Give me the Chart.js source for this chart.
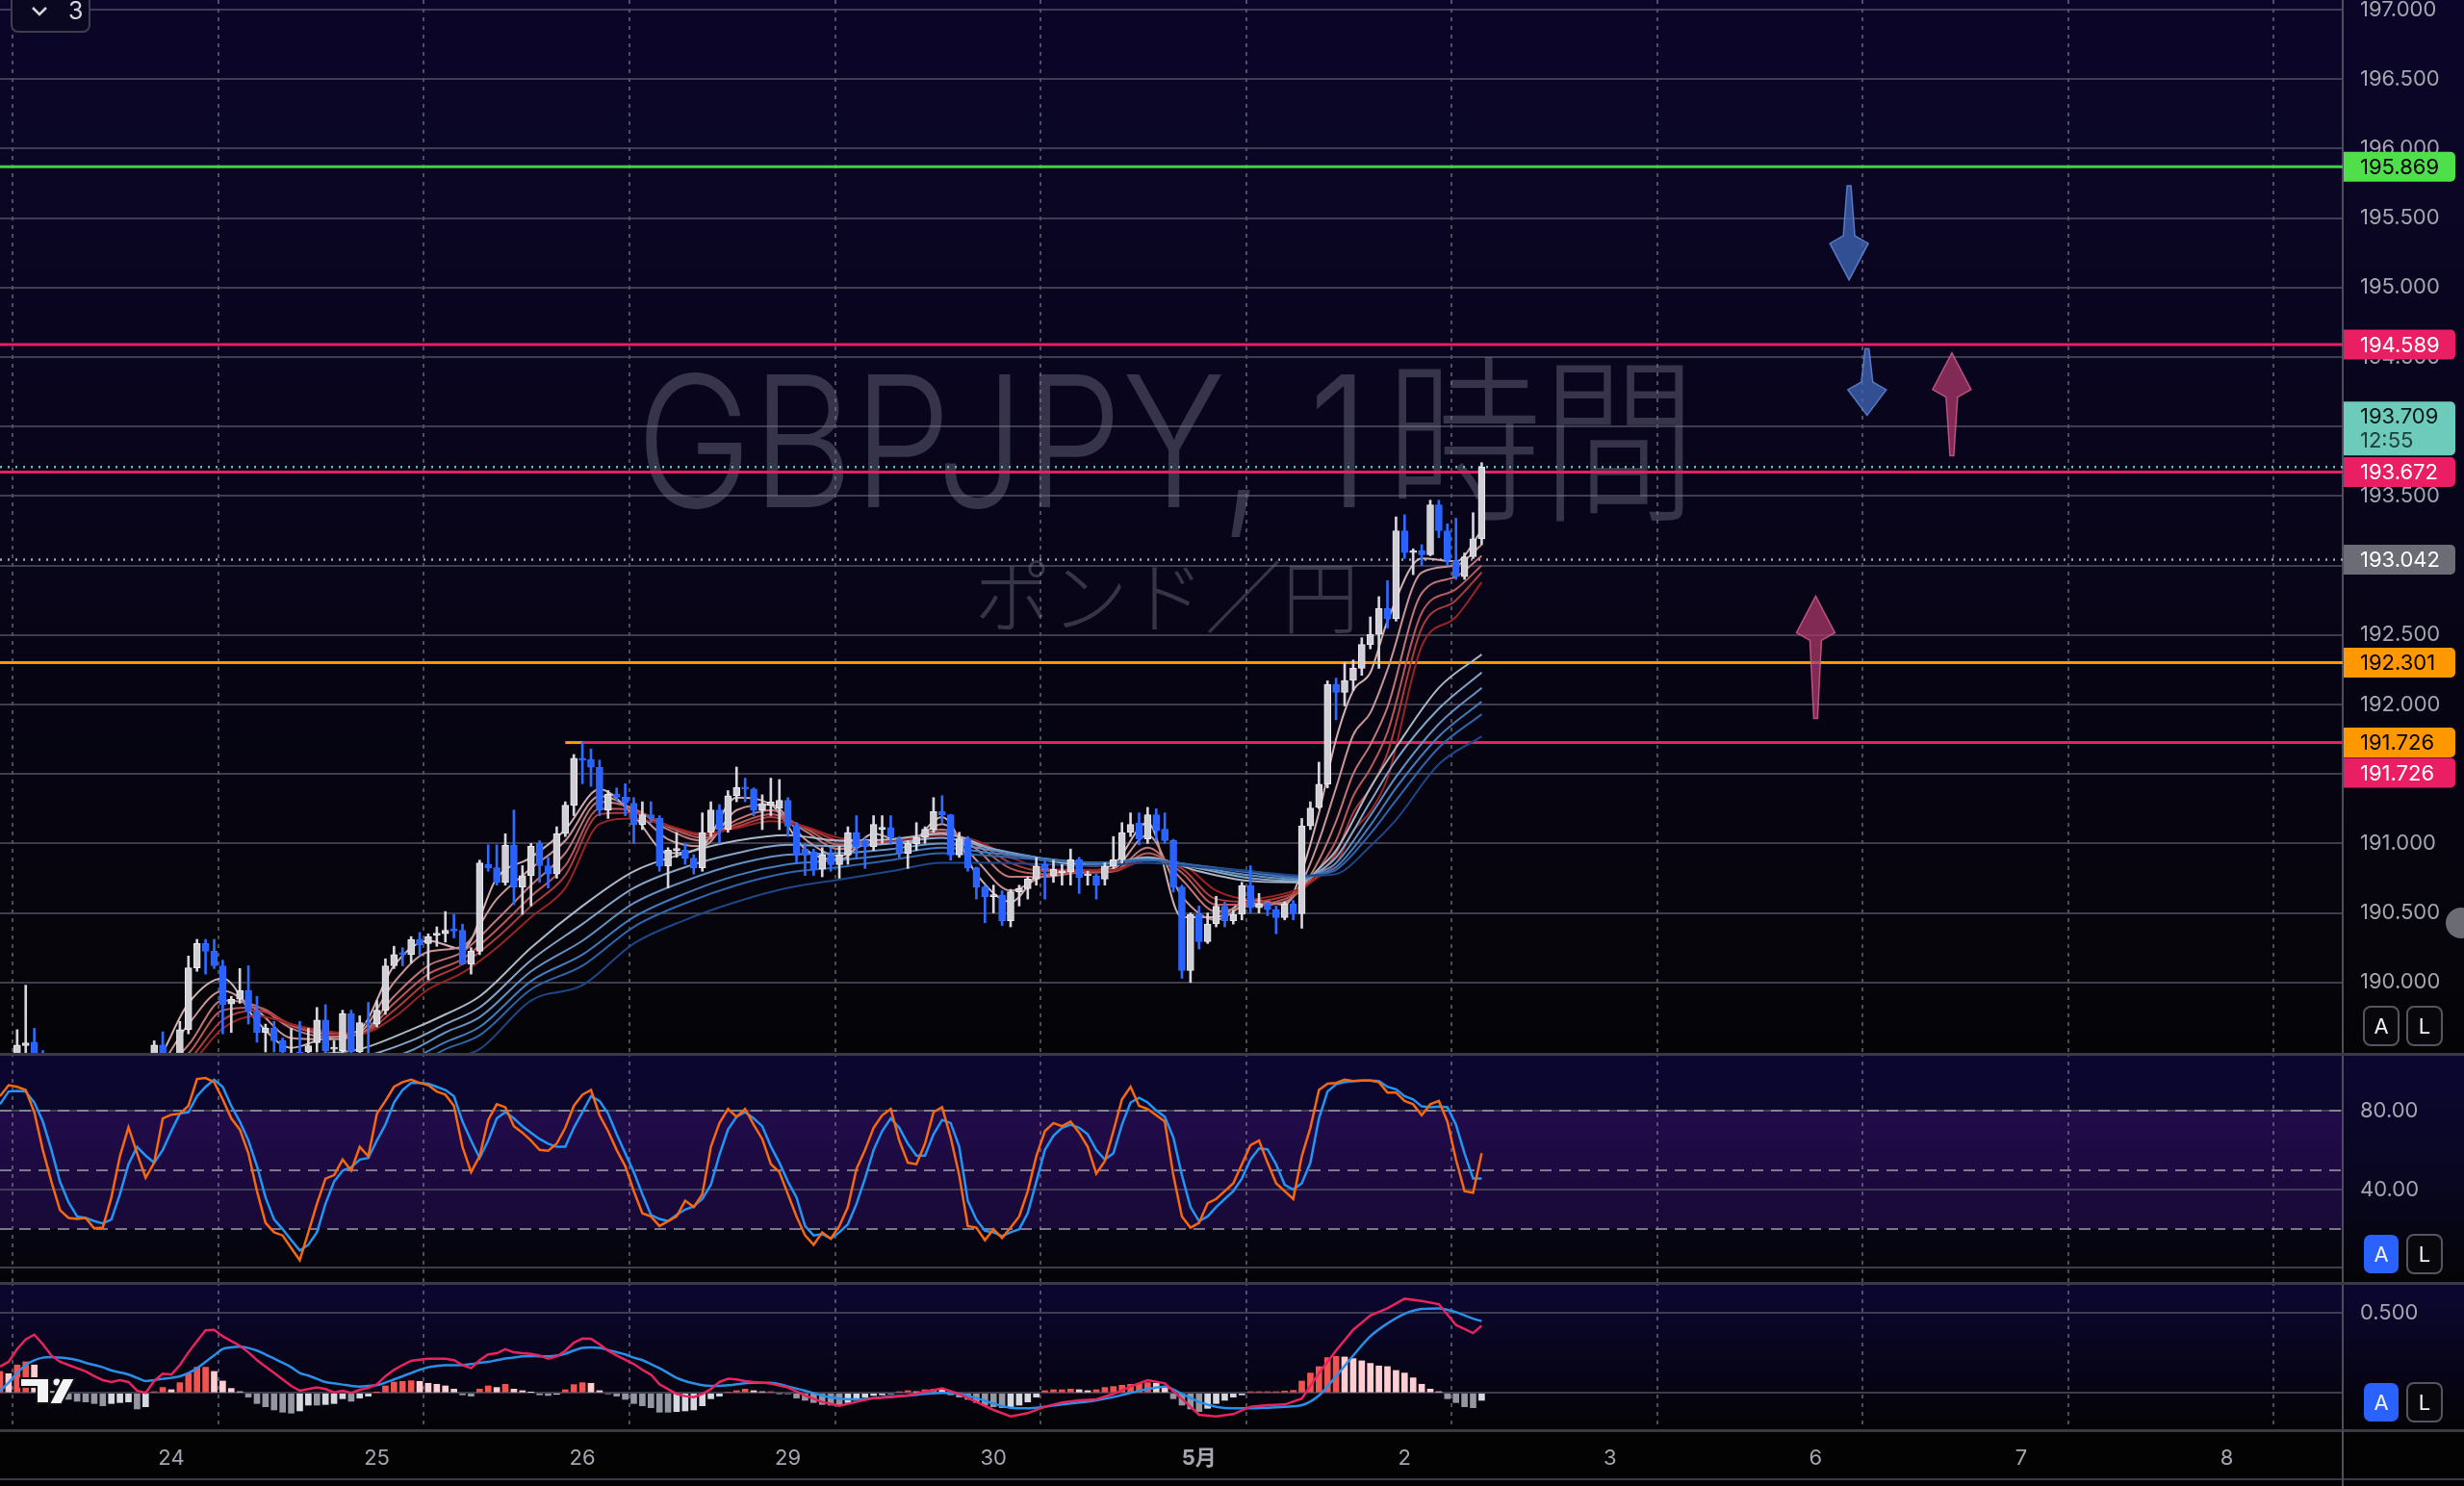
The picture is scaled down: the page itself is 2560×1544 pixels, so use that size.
<!DOCTYPE html>
<html>
<head>
<meta charset="utf-8">
<script src="https://cdn.jsdelivr.net/npm/chart.js@4.4.1/dist/chart.umd.min.js"></script>
<style>
  html, body { margin: 0; padding: 0; background: #030304; }
  #wrap { position: relative; width: 2560px; height: 1544px; overflow: hidden; background: #030304; }
  #wrap canvas { position: absolute; left: 0; }
</style>
</head>
<body>
<div id="wrap">
  <canvas id="chart-precio" width="2560" height="1094" style="top:0;width:2560px;height:1094px"></canvas>
  <canvas id="chart-estoc" width="2560" height="238" style="top:1094px;width:2560px;height:238px"></canvas>
  <canvas id="chart-macd" width="2560" height="212" style="top:1332px;width:2560px;height:212px"></canvas>
</div>
<script>
// ============================================================================
// GBPJPY 1時間足 — ローソク足 + GMMA + ストキャスティクス + MACD
// ============================================================================

// --- eje temporal (índice de barra, 0 = 24日 00:00) ---
const primeraBarra = -20;
const diasPos = [0, 24, 48, 72, 96, 120, 144, 168, 192, 216, 240];
const diasEtiquetas = ["24", "25", "26", "29", "30", "5月", "2", "3", "6", "7", "8"];
const rejillaX = [-18.5, 5.5, 29.5, 53.5, 77.5, 101.5, 125.5, 149.5, 173.5, 197.5, 221.5, 245.5];

// --- precios (barra -20 .. 153) ---
const aperturas = [
  189.40, 189.45, 189.42, 189.545, 189.57, 189.45, 189.38, 189.30, 189.22, 189.20,
  189.18, 189.20, 189.10, 189.15, 189.30, 189.38, 189.42, 189.33, 189.48, 189.55,
  189.47, 189.42, 189.66, 190.105, 190.28, 190.225, 190.12, 189.845, 189.88, 189.94,
  189.79, 189.64, 189.67, 189.58, 189.47, 189.50, 189.50, 189.567, 189.73, 189.52,
  189.51, 189.775, 189.50, 189.71, 189.70, 189.80, 190.12, 190.21, 190.20, 190.31,
  190.28, 190.34, 190.35, 190.38, 190.375, 190.133, 190.225, 190.85, 190.825, 190.72,
  190.987, 190.687, 190.768, 191.00, 190.84, 190.78, 191.07, 191.275, 191.614, 191.603,
  191.548, 191.24, 191.356, 191.333, 191.29, 191.137, 191.206, 191.183, 190.837, 190.95,
  190.952, 190.894, 190.825, 191.079, 191.241, 191.102, 191.344, 191.402, 191.391, 191.241,
  191.275, 191.252, 191.31, 191.125, 190.96, 190.94, 190.814, 190.917, 190.848, 190.917,
  191.079, 191.021, 190.975, 191.102, 191.114, 191.033, 190.929, 190.998, 191.044, 191.102,
  191.229, 191.206, 190.917, 191.033, 190.825, 190.687, 190.617, 190.629, 190.444, 190.652,
  190.675, 190.744, 190.848, 190.767, 190.79, 190.795, 190.883, 190.767, 190.767, 190.744,
  190.837, 190.883, 191.079, 191.148, 191.033, 191.206, 191.102, 191.021, 190.687, 190.086,
  190.49, 190.294, 190.421, 190.548, 190.444, 190.49, 190.698, 190.537, 190.566, 190.523,
  190.466, 190.566, 190.494, 191.126, 191.26, 191.427, 192.145, 192.087, 192.173, 192.26,
  192.432, 192.504, 192.69, 192.618, 193.25, 193.092, 193.106, 193.078, 193.436, 193.25,
  193.035, 192.92, 193.063, 193.192
];
const maximos = [
  189.48, 189.48, 189.66, 189.98, 189.67, 189.51, 189.45, 189.40, 189.32, 189.30,
  189.28, 189.25, 189.22, 189.35, 189.42, 189.46, 189.45, 189.40, 189.58, 189.645,
  189.48, 189.72, 190.19, 190.31, 190.31, 190.31, 190.16, 189.90, 190.10, 190.12,
  189.90, 189.70, 189.72, 189.60, 189.67, 189.72, 189.67, 189.82, 189.84, 189.58,
  189.80, 189.80, 189.76, 189.856, 189.87, 190.17, 190.26, 190.25, 190.33, 190.36,
  190.35, 190.40, 190.51, 190.49, 190.42, 190.25, 190.88, 190.99, 190.99, 191.07,
  191.24, 190.84, 191.00, 191.02, 190.90, 191.12, 191.30, 191.64, 191.726, 191.68,
  191.60, 191.38, 191.40, 191.43, 191.33, 191.30, 191.30, 191.20, 190.97, 191.08,
  191.00, 190.92, 191.22, 191.30, 191.28, 191.38, 191.55, 191.47, 191.40, 191.35,
  191.47, 191.46, 191.33, 191.15, 191.00, 190.96, 190.97, 190.97, 190.98, 191.12,
  191.20, 191.04, 191.20, 191.20, 191.20, 191.05, 191.02, 191.15, 191.12, 191.33,
  191.344, 191.21, 191.08, 191.05, 190.83, 190.70, 190.70, 190.66, 190.67, 190.70,
  190.76, 190.90, 190.87, 190.88, 190.85, 190.96, 190.90, 190.80, 190.78, 190.86,
  191.05, 191.15, 191.22, 191.22, 191.26, 191.25, 191.22, 191.03, 190.70, 190.50,
  190.55, 190.50, 190.62, 190.58, 190.52, 190.72, 190.84, 190.64, 190.58, 190.55,
  190.58, 190.59, 191.18, 191.30, 191.585, 192.17, 192.19, 192.30, 192.32, 192.48,
  192.63, 192.776, 192.891, 193.35, 193.365, 193.12, 193.15, 193.47, 193.47, 193.30,
  193.34, 193.09, 193.38, 193.74
];
const minimos = [
  189.30, 189.35, 189.40, 189.45, 189.40, 189.30, 189.25, 189.18, 189.12, 189.10,
  189.10, 189.05, 189.02, 189.12, 189.25, 189.30, 189.28, 189.22, 189.42, 189.40,
  189.35, 189.40, 189.63, 190.08, 190.06, 190.10, 189.63, 189.64, 189.85, 189.70,
  189.57, 189.50, 189.50, 189.45, 189.40, 189.40, 189.45, 189.50, 189.48, 189.49,
  189.48, 189.48, 189.48, 189.49, 189.68, 189.77, 190.10, 190.12, 190.14, 190.20,
  190.02, 190.26, 190.29, 190.32, 190.13, 190.06, 190.20, 190.80, 190.70, 190.70,
  190.56, 190.49, 190.55, 190.72, 190.68, 190.75, 191.05, 191.20, 191.43, 191.41,
  191.20, 191.18, 191.31, 191.20, 191.00, 191.10, 191.15, 190.80, 190.68, 190.90,
  190.85, 190.78, 190.80, 191.05, 191.00, 191.08, 191.30, 191.30, 191.20, 191.10,
  191.20, 191.10, 191.05, 190.86, 190.77, 190.77, 190.76, 190.80, 190.75, 190.85,
  190.90, 190.82, 190.95, 191.00, 191.00, 190.90, 190.82, 190.95, 191.00, 191.08,
  191.15, 190.88, 190.90, 190.80, 190.60, 190.43, 190.50, 190.41, 190.40, 190.55,
  190.60, 190.70, 190.60, 190.72, 190.70, 190.70, 190.64, 190.70, 190.60, 190.70,
  190.82, 190.86, 191.05, 190.99, 191.00, 191.02, 191.00, 190.65, 190.03, 190.00,
  190.24, 190.28, 190.40, 190.40, 190.42, 190.45, 190.50, 190.50, 190.48, 190.35,
  190.45, 190.45, 190.39, 191.10, 191.25, 191.40, 191.89, 191.99, 192.10, 192.21,
  192.40, 192.26, 192.55, 192.60, 193.05, 192.934, 193.00, 193.07, 193.20, 193.00,
  192.90, 192.90, 193.05, 193.15
];
const cierres = [
  189.45, 189.42, 189.55, 189.565, 189.47, 189.38, 189.30, 189.22, 189.20, 189.18,
  189.20, 189.10, 189.15, 189.30, 189.38, 189.42, 189.33, 189.30, 189.55, 189.49,
  189.42, 189.66, 190.105, 190.28, 190.225, 190.12, 189.84, 189.88, 189.94, 189.79,
  189.64, 189.67, 189.58, 189.50, 189.49, 189.46, 189.545, 189.729, 189.51, 189.52,
  189.775, 189.50, 189.71, 189.70, 189.80, 190.12, 190.20, 190.20, 190.31, 190.27,
  190.33, 190.35, 190.375, 190.37, 190.133, 190.225, 190.86, 190.825, 190.72, 190.987,
  190.687, 190.768, 190.98, 190.84, 190.78, 191.07, 191.275, 191.614, 191.598, 191.548,
  191.24, 191.356, 191.333, 191.29, 191.137, 191.206, 191.183, 190.837, 190.952, 190.96,
  190.894, 190.825, 191.079, 191.241, 191.102, 191.344, 191.402, 191.391, 191.241, 191.287,
  191.298, 191.31, 191.125, 190.917, 190.917, 190.814, 190.917, 190.848, 190.917, 191.079,
  190.975, 190.975, 191.137, 191.114, 191.044, 190.929, 190.998, 191.044, 191.102, 191.229,
  191.206, 190.917, 191.033, 190.825, 190.687, 190.617, 190.63, 190.444, 190.652, 190.675,
  190.744, 190.837, 190.814, 190.814, 190.80, 190.883, 190.756, 190.767, 190.698, 190.837,
  190.883, 191.079, 191.137, 191.033, 191.206, 191.091, 191.021, 190.687, 190.086, 190.49,
  190.294, 190.421, 190.548, 190.444, 190.49, 190.698, 190.537, 190.566, 190.523, 190.466,
  190.566, 190.494, 191.126, 191.255, 191.427, 192.145, 192.087, 192.173, 192.26, 192.432,
  192.504, 192.69, 192.618, 193.25, 193.092, 193.10, 193.078, 193.436, 193.25, 193.035,
  192.92, 193.063, 193.192, 193.709
];

// --- GMMA corto (rojos) ---
const rojoIdx = [-20, -14, -8, -2, 2, 6, 10, 14, 18, 22, 26, 30, 34, 38, 42, 46, 50, 54, 58, 62, 66, 70, 74, 78, 82, 86, 90, 94, 98, 102, 106, 110, 114, 118, 122, 126, 130, 132, 134, 136, 138, 140, 142, 146, 150, 153];
const rojo1 = [189.45, 189.42, 189.25, 189.40, 189.85, 190.03, 189.72, 189.53, 189.60, 189.66, 190.12, 190.30, 190.24, 190.75, 190.90, 191.10, 191.39, 191.20, 190.93, 190.98, 191.33, 191.28, 190.96, 190.88, 191.07, 191.00, 191.19, 190.78, 190.58, 190.81, 190.80, 190.85, 191.15, 190.47, 190.47, 190.60, 190.56, 190.80, 191.22, 191.75, 192.10, 192.23, 192.60, 193.05, 193.03, 193.25];
const rojo2 = [189.42, 189.43, 189.28, 189.36, 189.70, 189.94, 189.80, 189.60, 189.59, 189.64, 190.00, 190.22, 190.26, 190.60, 190.82, 191.02, 191.34, 191.24, 191.03, 190.98, 191.24, 191.28, 191.03, 190.91, 191.02, 191.02, 191.14, 190.88, 190.66, 190.77, 190.80, 190.82, 191.06, 190.62, 190.45, 190.57, 190.57, 190.72, 191.02, 191.40, 191.78, 191.94, 192.25, 192.95, 193.00, 193.15];
const rojo3 = [189.38, 189.42, 189.31, 189.33, 189.55, 189.87, 189.83, 189.67, 189.61, 189.63, 189.90, 190.12, 190.22, 190.45, 190.70, 190.93, 191.30, 191.25, 191.10, 191.02, 191.17, 191.24, 191.09, 190.96, 191.00, 191.03, 191.10, 190.96, 190.76, 190.76, 190.79, 190.80, 190.97, 190.74, 190.51, 190.55, 190.58, 190.68, 190.88, 191.16, 191.50, 191.71, 191.98, 192.80, 192.92, 193.07];
const rojo4 = [189.35, 189.40, 189.32, 189.32, 189.49, 189.80, 189.82, 189.69, 189.63, 189.63, 189.85, 190.06, 190.17, 190.38, 190.62, 190.84, 191.25, 191.24, 191.12, 191.04, 191.14, 191.21, 191.11, 190.99, 191.00, 191.03, 191.08, 190.99, 190.82, 190.78, 190.79, 190.80, 190.93, 190.79, 190.56, 190.56, 190.60, 190.67, 190.82, 191.02, 191.34, 191.54, 191.80, 192.66, 192.83, 193.00];
const rojo5 = [189.32, 189.38, 189.33, 189.31, 189.44, 189.73, 189.80, 189.70, 189.64, 189.63, 189.80, 190.01, 190.13, 190.32, 190.55, 190.77, 191.21, 191.22, 191.13, 191.06, 191.12, 191.19, 191.12, 191.02, 191.01, 191.03, 191.07, 191.01, 190.86, 190.80, 190.80, 190.80, 190.90, 190.82, 190.60, 190.58, 190.62, 190.67, 190.78, 190.93, 191.22, 191.40, 191.65, 192.55, 192.75, 192.95];
const rojo6 = [189.28, 189.35, 189.33, 189.30, 189.40, 189.67, 189.76, 189.70, 189.65, 189.63, 189.75, 189.95, 190.07, 190.25, 190.47, 190.68, 191.14, 191.18, 191.13, 191.07, 191.11, 191.16, 191.12, 191.04, 191.02, 191.03, 191.06, 191.02, 190.90, 190.82, 190.81, 190.81, 190.88, 190.85, 190.66, 190.60, 190.64, 190.68, 190.76, 190.86, 191.09, 191.23, 191.47, 192.42, 192.63, 192.88];

// --- GMMA largo (azules) ---
const azulIdx = [-20, -8, 4, 16, 22, 28, 32, 36, 42, 48, 54, 60, 66, 72, 78, 84, 90, 96, 102, 108, 114, 120, 126, 132, 134, 136, 140, 143, 148, 153];
const azul1 = [189.20, 189.25, 189.42, 189.48, 189.52, 189.66, 189.77, 189.90, 190.25, 190.55, 190.80, 190.93, 191.02, 191.06, 191.02, 191.03, 191.07, 190.96, 190.88, 190.84, 190.90, 190.80, 190.73, 190.72, 190.82, 190.95, 191.40, 191.69, 192.12, 192.36];
const azul2 = [189.15, 189.20, 189.36, 189.42, 189.46, 189.58, 189.70, 189.82, 190.16, 190.42, 190.68, 190.83, 190.93, 190.99, 190.98, 191.00, 191.04, 190.96, 190.89, 190.85, 190.89, 190.82, 190.75, 190.73, 190.80, 190.90, 191.30, 191.60, 191.97, 192.23];
const azul3 = [189.10, 189.15, 189.30, 189.37, 189.40, 189.51, 189.64, 189.75, 190.08, 190.30, 190.57, 190.73, 190.85, 190.92, 190.93, 190.96, 191.00, 190.95, 190.89, 190.86, 190.89, 190.83, 190.77, 190.74, 190.79, 190.86, 191.20, 191.48, 191.86, 192.12];
const azul4 = [189.05, 189.10, 189.24, 189.32, 189.35, 189.45, 189.57, 189.68, 190.01, 190.20, 190.47, 190.64, 190.77, 190.85, 190.88, 190.92, 190.97, 190.93, 190.89, 190.86, 190.88, 190.84, 190.79, 190.75, 190.78, 190.83, 191.13, 191.40, 191.77, 192.02];
const azul5 = [189.00, 189.05, 189.19, 189.27, 189.30, 189.39, 189.52, 189.62, 189.95, 190.12, 190.40, 190.57, 190.70, 190.79, 190.83, 190.88, 190.93, 190.91, 190.88, 190.86, 190.88, 190.84, 190.80, 190.76, 190.78, 190.81, 191.07, 191.31, 191.69, 191.93];
const azul6 = [188.92, 188.97, 189.10, 189.18, 189.21, 189.29, 189.44, 189.52, 189.87, 189.98, 190.28, 190.45, 190.58, 190.68, 190.74, 190.80, 190.86, 190.86, 190.85, 190.84, 190.86, 190.83, 190.80, 190.77, 190.77, 190.78, 190.98, 191.17, 191.57, 191.77];

// --- líneas horizontales y etiquetas del eje ---
const preciosEje = [190, 190.5, 191, 191.5, 192, 192.5, 193, 193.5, 194, 194.5, 195, 195.5, 196, 196.5, 197];
const nivelesPrecio = [195.869, 194.589, 193.672, 192.301];
const nivelesColor = ["#3fd23f", "#e91e63", "#e91e63", "#ff9800"];
const resistencia = 191.726;
const precioActual = 193.709;
const cuentaAtras = "12:55";
const precioPunteado = 193.042;

// --- flechas dibujadas (barra, precio cola, precio punta) ---
const flechaBarra = [195.9, 198.0, 207.9, 192.0];
const flechaCola = [195.733, 194.56, 193.79, 191.90];
const flechaPunta = [195.054, 194.08, 194.53, 192.78];

// --- estocástico ---
const estocK = [
  87.6, 93.2, 92.4, 90.8, 79.5, 60.2, 44, 29.5, 25.5, 25,
  25.5, 20.2, 20.6, 36, 57, 71.8, 58.5, 46, 53.7, 76.3,
  78.2, 78.7, 82.7, 96.4, 96.9, 94.8, 86, 76.3, 70.6, 58.5,
  39.2, 23, 18.2, 16.6, 10.2, 4, 18.2, 32.7, 45.6, 47.3,
  55.3, 49.7, 61.8, 57, 78.7, 85.2, 92.4, 94.8, 96, 94.4,
  93.2, 90, 88.4, 82.7, 61.8, 48.9, 57, 75.5, 83.5, 82,
  72.3, 69, 65, 60.2, 59.8, 63.4, 71.5, 82.7, 88.4, 90.8,
  77.9, 69.8, 60.2, 52, 39.2, 27.9, 26.3, 21.4, 23.9, 26.3,
  34.3, 31.1, 37.6, 61.8, 73.9, 81.1, 77.1, 81.1, 73.1, 65.8,
  53, 48.9, 37.6, 26.3, 16.6, 11.8, 18.2, 15, 21.4, 31.1,
  50.5, 60.2, 71.5, 77.9, 81.1, 65, 53.7, 52.9, 63.4, 79.5,
  82, 66.6, 47.3, 21.4, 20.6, 14.2, 19.8, 15.3, 20.6, 26.3,
  39.2, 57, 69.8, 73.9, 72.3, 74.7, 69, 61.8, 48.1, 54.5,
  69.8, 86, 92.4, 82.7, 81.1, 77.9, 74.7, 47.3, 26.3, 20.6,
  23, 33.1, 35.2, 39.2, 43.2, 52.9, 62.6, 65, 53.7, 43.2,
  39.2, 35.2, 57, 71.5, 90.8, 94, 94.4, 96, 95.3, 95.6,
  95.6, 94.8, 89.5, 89.5, 85.2, 83.5, 77.9, 83.5, 85.2, 74.7,
  55.3, 39.2, 38.4, 58.5
];
const estocD = [
  83.5, 90, 90.3, 90, 84.4, 74.7, 60.2, 44, 33.5, 26.3,
  25.5, 23.9, 22.7, 24.7, 37.6, 52.9, 61.8, 57.3, 53.7, 60.2,
  69.8, 78.7, 79.5, 87.6, 92.4, 96, 92.4, 82.7, 74.7, 65,
  52, 36, 24.7, 19.8, 14.2, 8.9, 11.8, 18.2, 32.7, 44,
  49.7, 51.3, 55.3, 56.1, 65, 73.1, 84.4, 90.8, 94.4, 94.4,
  94, 92.4, 90.8, 87.6, 74.7, 65, 56.1, 65, 76.3, 79.5,
  76.3, 72.3, 69, 65.8, 63.4, 61.8, 61.8, 71.5, 79.5, 87.6,
  85.2, 78.7, 68.2, 58.5, 48.9, 37.6, 27.1, 25, 23.9, 27.1,
  29.8, 31.4, 35.2, 42.4, 57.7, 70.6, 77.1, 79.5, 76.3, 72.3,
  62, 53.7, 44, 36, 21.4, 16.6, 17.3, 15, 18.2, 22.3,
  32.7, 45.6, 60.2, 69.8, 76.3, 71.5, 63.4, 57.3, 57.3, 68.2,
  75.5, 73.9, 61.8, 34.3, 24.7, 19, 18.2, 16.3, 18.2, 19.8,
  27.9, 44, 60.2, 67.4, 71.5, 73.1, 71.5, 68.2, 60.2, 55.3,
  58.5, 73.1, 84.4, 86.8, 84.4, 80.3, 77.1, 66.6, 47.3, 31.1,
  23.9, 26.3, 31.1, 35.2, 39.2, 45.6, 55.3, 61, 60.5, 52.9,
  42.4, 40, 43.2, 53.7, 76.3, 90, 93.7, 94.8, 95.3, 95.6,
  95.6, 95.3, 92.4, 91.1, 87.6, 86, 82.4, 82, 82.3, 82,
  73.1, 58.5, 45.6, 45.6
];
const estocBandas = [20, 50, 80];
const estocEje = [0, 40, 80];

// --- MACD ---
const macdLinea = [
  0.164, 0.194, 0.273, 0.333, 0.363, 0.303, 0.233, 0.194, 0.174, 0.154,
  0.134, 0.104, 0.08, 0.068, 0.08, 0.068, 0.014, 0.0, 0.074, 0.12,
  0.114, 0.174, 0.253, 0.323, 0.39, 0.393, 0.353, 0.323, 0.294, 0.253,
  0.204, 0.164, 0.124, 0.084, 0.044, 0.014, 0.024, 0.034, 0.024, 0.004,
  0.014, 0.0, 0.02, 0.032, 0.054, 0.104, 0.144, 0.174, 0.2, 0.207,
  0.213, 0.213, 0.213, 0.204, 0.174, 0.154, 0.204, 0.24, 0.247, 0.273,
  0.253, 0.247, 0.243, 0.233, 0.213, 0.227, 0.263, 0.313, 0.339, 0.337,
  0.303, 0.263, 0.233, 0.207, 0.18, 0.144, 0.114, 0.054, 0.024, -0.006,
  -0.02, -0.026, -0.006, 0.024, 0.068, 0.088, 0.084, 0.074, 0.068, 0.064,
  0.058, null, 0.034, null, -0.016, null, -0.056, null, -0.08, null,
  -0.056, null, -0.032, null, -0.026, null, -0.016, null, 0.008, null,
  0.028, null, -0.006, null, -0.056, null, -0.106, null, -0.146, null,
  -0.126, null, -0.086, null, -0.06, null, -0.046, null, -0.04, null,
  -0.006, null, 0.04, null, 0.08, null, 0.06, null, -0.036, null,
  -0.136, null, -0.146, null, -0.132, null, -0.086, null, -0.076, null,
  -0.072, null, -0.036, null, 0.124, null, 0.264, null, 0.393, null,
  0.483, null, 0.527, null, 0.587, null, 0.573, null, 0.553, null,
  0.423, null, 0.373, 0.419
];
const macdSenal = [
  0.014, 0.064, 0.124, 0.174, 0.204, 0.22, 0.224, 0.22, 0.214, 0.204,
  0.188, 0.174, 0.16, 0.14, 0.128, 0.114, 0.094, 0.074, 0.08, 0.088,
  0.094, 0.104, 0.124, 0.154, 0.194, 0.234, 0.274, 0.284, 0.288, 0.28,
  0.264, 0.24, 0.214, 0.188, 0.16, 0.124, 0.108, 0.088, 0.068, 0.06,
  0.052, 0.044, 0.04, 0.044, 0.048, 0.064, 0.084, 0.104, 0.124, 0.144,
  0.16, 0.168, 0.172, 0.172, 0.174, 0.18, 0.188, 0.194, 0.204, 0.214,
  0.22, 0.228, 0.23, 0.228, 0.228, 0.232, 0.244, 0.264, 0.28, 0.284,
  0.28, 0.268, 0.254, 0.24, 0.22, 0.204, 0.18, 0.154, 0.124, 0.094,
  0.074, 0.06, 0.048, 0.044, 0.044, 0.048, 0.054, 0.06, 0.064, 0.064,
  0.064, null, 0.04, null, 0.014, null, -0.016, null, -0.036, null,
  -0.04, null, -0.032, null, -0.022, null, -0.016, null, -0.006, null,
  0.0, null, -0.006, null, -0.032, null, -0.066, null, -0.092, null,
  -0.096, null, -0.086, null, -0.072, null, -0.06, null, -0.046, null,
  -0.026, null, 0.0, null, 0.024, null, 0.04, null, -0.006, null,
  -0.056, null, -0.086, null, -0.096, null, -0.096, null, -0.092, null,
  -0.086, null, -0.076, null, -0.016, null, 0.104, null, 0.233, null,
  0.353, null, 0.433, null, 0.493, null, 0.523, null, 0.527, null,
  0.503, null, 0.463, 0.447
];
const macdHisto = [
  0.134, 0.12, 0.174, 0.194, 0.174, 0.08, 0.01, -0.026, -0.04, -0.052,
  -0.056, -0.066, -0.08, -0.066, -0.06, -0.056, -0.1, -0.086, 0.008, 0.034,
  0.02, 0.064, 0.12, 0.16, 0.16, 0.134, 0.074, 0.028, 0.008, -0.026,
  -0.066, -0.086, -0.106, -0.12, -0.126, -0.112, -0.076, -0.076, -0.072, -0.066,
  -0.036, -0.052, -0.032, -0.02, 0.004, 0.044, 0.068, 0.072, 0.076, 0.072,
  0.06, 0.054, 0.044, 0.024, -0.012, -0.02, 0.024, 0.044, 0.034, 0.054,
  0.024, 0.014, 0.004, -0.012, -0.016, -0.008, 0.02, 0.052, 0.064, 0.06,
  0.014, -0.006, -0.02, -0.04, -0.066, -0.08, -0.092, -0.12, -0.12, -0.116,
  -0.112, -0.106, -0.08, -0.036, -0.02, 0.006, 0.014, 0.024, 0.014, 0.008,
  0.008, -0.004, -0.006, -0.032, -0.046, -0.06, -0.072, -0.076, -0.076, -0.06,
  -0.046, -0.026, -0.016, -0.012, -0.006, 0.008, 0.014, 0.008, 0.02, 0.024,
  0.02, -0.012, -0.026, -0.04, -0.06, -0.076, -0.086, -0.092, -0.086, -0.076,
  -0.056, -0.026, 0.014, 0.02, 0.02, 0.024, 0.02, 0.014, 0.02, 0.034,
  0.04, 0.048, 0.054, 0.06, 0.064, 0.06, 0.034, -0.036, -0.076, -0.1,
  -0.116, -0.096, -0.066, -0.046, -0.026, -0.012, 0.008, 0.008, 0.008, 0.008,
  0.012, 0.016, 0.074, 0.124, 0.164, 0.22, 0.228, 0.224, 0.214, 0.2,
  0.184, 0.168, 0.164, 0.14, 0.124, 0.094, 0.054, 0.024, 0.008, -0.036,
  -0.06, -0.086, -0.092, -0.046
];
const macdEje = [0, 0.5];

// ============================================================================
// Configuración visual
// ============================================================================
const X_MIN = -20.004, X_MAX = 253.54;
const ANCHO_EJE = 126;
const FUENTE = "Inter, 'Noto Sans CJK JP', sans-serif";
const COLOR_TEXTO_EJE = "#a4a7b0";
const COLOR_REJILLA = "rgba(80, 80, 98, 0.75)";
const COLOR_REJILLA_V = "rgba(150, 150, 170, 0.5)";

Chart.defaults.font.family = FUENTE;

const barras = aperturas.map((_, k) => primeraBarra + k);
const alcista = aperturas.map((o, k) => cierres[k] >= o);

// sin márgenes automáticos: el área de trazado ocupa todo el lienzo
function sinRelleno(s) {
  s.paddingTop = 0; s.paddingBottom = 0; s.paddingLeft = 0; s.paddingRight = 0;
}

function ejeRejillaX() {
  return {
    type: "linear", position: "bottom", min: X_MIN, max: X_MAX, offset: false,
    afterFit: (s) => { s.height = 0; sinRelleno(s); },
    afterBuildTicks: (s) => { s.ticks = rejillaX.map((v) => ({ value: v })); },
    ticks: { display: false },
    grid: { color: COLOR_REJILLA_V, lineWidth: 2, drawTicks: false, offset: false },
    border: { display: false, dash: [4, 5] }
  };
}

function ejePrecio(min, max, valores, formato) {
  return {
    type: "linear", position: "right", min, max,
    afterFit: (s) => { s.width = ANCHO_EJE; sinRelleno(s); },
    afterBuildTicks: (s) => { s.ticks = valores.map((v) => ({ value: v })); },
    ticks: { callback: formato, color: COLOR_TEXTO_EJE, font: { family: FUENTE, size: 22 }, padding: 18, autoSkip: false },
    grid: { color: COLOR_REJILLA, lineWidth: 2, drawTicks: false },
    border: { display: true, color: "#4e4e5a", width: 2 }
  };
}

function rellenarFondo(ctx, ancho, alto, paradas) {
  const g = ctx.createLinearGradient(0, 0, 0, alto);
  paradas.forEach(([o, c]) => g.addColorStop(o, c));
  ctx.fillStyle = g;
  ctx.fillRect(0, 0, ancho, alto);
}

function botonesAL(ctx, y, azul) {
  ctx.save();
  ctx.lineWidth = 2;
  ctx.font = "22px " + FUENTE;
  ctx.textAlign = "center";
  ctx.textBaseline = "middle";
  [["A", 2456], ["L", 2501]].forEach(([t, x], n) => {
    ctx.beginPath();
    ctx.roundRect(x, y, 36, 40, 7);
    if (n === 0 && azul) { ctx.fillStyle = "#2962ff"; ctx.fill(); }
    else { ctx.fillStyle = "#08080c"; ctx.fill(); ctx.strokeStyle = "#55555f"; ctx.stroke(); }
    ctx.fillStyle = "#f2f2f5";
    ctx.fillText(t, x + 18, y + 21);
  });
  ctx.restore();
}

function etiquetaPrecio(ctx, y, texto, fondo, tinta) {
  ctx.fillStyle = fondo;
  ctx.beginPath();
  ctx.roundRect(2435, y - 15.5, 116, 31, [0, 5, 5, 0]);
  ctx.fill();
  ctx.fillStyle = tinta;
  ctx.font = "22px " + FUENTE;
  ctx.textAlign = "left";
  ctx.textBaseline = "middle";
  ctx.fillText(texto, 2452, y + 1);
}

function dibujarFlecha(ctx, x, yCola, yPunta, relleno, trazo) {
  const dir = yPunta > yCola ? 1 : -1;
  const largo = Math.min(46, Math.abs(yPunta - yCola) * 0.5);
  const medioCabeza = 20;
  const yCuello = yPunta - dir * largo;
  ctx.beginPath();
  ctx.moveTo(x - 2, yCola);
  ctx.lineTo(x + 2, yCola);
  ctx.lineTo(x + 6, yCuello);
  ctx.lineTo(x + medioCabeza, yCuello + dir * 8);
  ctx.lineTo(x, yPunta);
  ctx.lineTo(x - medioCabeza, yCuello + dir * 8);
  ctx.lineTo(x - 6, yCuello);
  ctx.closePath();
  ctx.fillStyle = relleno;
  ctx.fill();
  ctx.strokeStyle = trazo;
  ctx.lineWidth = 1.5;
  ctx.stroke();
}

// texto ajustado a un ancho dado (marca de agua)
function textoAjustado(ctx, texto, fuente, xIzq, ancho, base) {
  ctx.save();
  ctx.font = fuente;
  ctx.textAlign = "left";
  ctx.textBaseline = "alphabetic";
  const w = ctx.measureText(texto).width;
  ctx.translate(xIzq, base);
  ctx.scale(ancho / w, 1);
  ctx.fillText(texto, 0, 0);
  ctx.restore();
}

// ============================================================================
// Panel principal: velas
// ============================================================================
const decoracionPrecio = {
  id: "decoracionPrecio",
  beforeDraw(chart) {
    const { ctx, width, height } = chart;
    ctx.save();
    rellenarFondo(ctx, width, height, [[0, "#0b0629"], [0.45, "#08051b"], [1, "#040407"]]);
    ctx.restore();
  },
  beforeDatasetsDraw(chart) {
    const { ctx } = chart;
    ctx.save();
    ctx.fillStyle = "rgba(118, 120, 138, 0.42)";
    textoAjustado(ctx, "GBPJPY, 1", "300 190px Inter, sans-serif", 661, 762, 527);
    textoAjustado(ctx, "時間", "300 186px 'Noto Sans CJK JP', sans-serif", 1440, 323, 527);
    textoAjustado(ctx, "ポンド／円", "300 82px 'Noto Sans CJK JP', sans-serif", 1012, 400, 651);
    ctx.restore();
  },
  afterDatasetsDraw(chart) {
    const { ctx, chartArea } = chart;
    const sx = chart.scales.x, sy = chart.scales.y;
    ctx.save();
    ctx.beginPath();
    ctx.rect(chartArea.left, chartArea.top, chartArea.right - chartArea.left, chartArea.bottom - chartArea.top);
    ctx.clip();
    flechaBarra.forEach((b, k) => {
      const abajo = flechaPunta[k] < flechaCola[k];
      dibujarFlecha(ctx, sx.getPixelForValue(b), sy.getPixelForValue(flechaCola[k]), sy.getPixelForValue(flechaPunta[k]),
        abajo ? "rgba(62, 100, 180, 0.78)" : "rgba(170, 55, 105, 0.75)",
        abajo ? "rgba(100, 140, 220, 0.8)" : "rgba(215, 95, 145, 0.8)");
    });
    ctx.restore();
  },
  afterDraw(chart) {
    const { ctx } = chart;
    const sy = chart.scales.y;
    ctx.save();
    nivelesPrecio.forEach((p, k) => {
      etiquetaPrecio(ctx, sy.getPixelForValue(p), p.toFixed(3), nivelesColor[k] === "#3fd23f" ? "#4fdf4b" : nivelesColor[k],
        nivelesColor[k] === "#e91e63" ? "#ffffff" : "#000000");
    });
    etiquetaPrecio(ctx, sy.getPixelForValue(precioPunteado), precioPunteado.toFixed(3), "#6c6c77", "#ffffff");
    etiquetaPrecio(ctx, sy.getPixelForValue(resistencia), resistencia.toFixed(3), "#ff9800", "#000000");
    etiquetaPrecio(ctx, sy.getPixelForValue(resistencia) + 31.5, resistencia.toFixed(3), "#e91e63", "#ffffff");
    // precio actual + cuenta atrás
    const yAct = sy.getPixelForValue(precioActual);
    ctx.fillStyle = "#6ccbbb";
    ctx.beginPath();
    ctx.roundRect(2435, yAct - 68, 116, 56, [0, 5, 5, 0]);
    ctx.fill();
    ctx.fillStyle = "#0b1614";
    ctx.font = "22px " + FUENTE;
    ctx.textBaseline = "middle";
    ctx.fillText(precioActual.toFixed(3), 2452, yAct - 52);
    ctx.fillStyle = "#20403b";
    ctx.fillText(cuentaAtras, 2452, yAct - 27);
    // botón plegado de leyenda
    ctx.fillStyle = "#0a0820";
    ctx.strokeStyle = "#3f3f4c";
    ctx.lineWidth = 2;
    ctx.beginPath();
    ctx.roundRect(12, -8, 81, 41, 7);
    ctx.fill();
    ctx.stroke();
    ctx.strokeStyle = "#d6d6de";
    ctx.lineWidth = 2.5;
    ctx.beginPath();
    ctx.moveTo(34, 8); ctx.lineTo(41, 15); ctx.lineTo(48, 8);
    ctx.stroke();
    ctx.fillStyle = "#d6d6de";
    ctx.font = "25px " + FUENTE;
    ctx.textAlign = "left";
    ctx.fillText("3", 71, 12);
    // tirador del eje
    ctx.fillStyle = "#6b6b73";
    ctx.beginPath();
    ctx.arc(2557, 959, 16, 0, Math.PI * 2);
    ctx.fill();
    ctx.restore();
    botonesAL(ctx, 1046, false);
  }
};

const lineaCinta = (idx, vals, color) => ({
  type: "line",
  data: vals.map((y, k) => ({ x: idx[k], y })),
  borderColor: color, borderWidth: 2, pointRadius: 0,
  cubicInterpolationMode: "monotone", order: 2
});
const lineaNivel = (p, desde, hasta, color, guiones, grosor) => ({
  type: "line",
  data: [{ x: desde, y: p }, { x: hasta, y: p }],
  borderColor: color, borderWidth: grosor, borderDash: guiones, pointRadius: 0, order: 3
});

const coloresRojo = ["#d2b0b0", "#c99494", "#c27777", "#b95a5a", "#ad3c3c", "#9c2323"];
const coloresAzul = ["#aab8c8", "#86a6c8", "#6592c4", "#457cbc", "#2e65ab", "#1d4788"];
const cintasRojas = [rojo1, rojo2, rojo3, rojo4, rojo5, rojo6];
const cintasAzules = [azul1, azul2, azul3, azul4, azul5, azul6];

new Chart(document.getElementById("chart-precio"), {
  type: "bar",
  data: {
    datasets: [
      {
        label: "cuerpo",
        data: barras.map((x, k) => ({ x, y: [aperturas[k], cierres[k]] })),
        backgroundColor: alcista.map((u) => (u ? "#cfcfd5" : "#2962ff")),
        borderColor: alcista.map((u) => (u ? "#ececf0" : "#2f6bff")),
        borderWidth: 1, borderSkipped: false,
        barThickness: 7, minBarLength: 2, grouped: false, order: 0
      },
      {
        label: "mecha",
        data: barras.map((x, k) => ({ x, y: [minimos[k], maximos[k]] })),
        backgroundColor: alcista.map((u) => (u ? "#d6d6dc" : "#2f6bff")),
        borderWidth: 0, barThickness: 2, grouped: false, order: 1
      },
      ...cintasAzules.map((v, n) => lineaCinta(azulIdx, v, coloresAzul[n])).reverse(),
      ...cintasRojas.map((v, n) => lineaCinta(rojoIdx, v, coloresRojo[n])).reverse(),
      ...nivelesPrecio.map((p, k) => lineaNivel(p, X_MIN, X_MAX, nivelesColor[k], [], 3)),
      lineaNivel(resistencia, 46, 48, "#ff9800", [], 3),
      lineaNivel(resistencia, 48, X_MAX, "#e91e63", [], 3),
      lineaNivel(precioActual, X_MIN, X_MAX, "#5cc0b0", [2, 6], 2.5),
      lineaNivel(precioPunteado, X_MIN, X_MAX, "#a2a2ae", [2, 6], 2.5)
    ]
  },
  options: {
    responsive: false, animation: false, devicePixelRatio: 1,
    layout: { padding: 0 },
    plugins: { legend: { display: false }, tooltip: { enabled: false } },
    scales: {
      x: ejeRejillaX(),
      y: ejePrecio(189.493, 197.069, preciosEje, (v) => Number(v).toFixed(3))
    }
  },
  plugins: [decoracionPrecio]
});

// ============================================================================
// Panel estocástico
// ============================================================================
const decoracionEstoc = {
  id: "decoracionEstoc",
  beforeDraw(chart) {
    const { ctx, width, height, chartArea } = chart;
    const sy = chart.scales.y;
    ctx.save();
    rellenarFondo(ctx, width, height, [[0, "#0b0632"], [0.55, "#090620"], [1, "#040407"]]);
    const y80 = sy.getPixelForValue(estocBandas[2]);
    const y20 = sy.getPixelForValue(estocBandas[0]);
    const g = ctx.createLinearGradient(0, y80, 0, y20);
    g.addColorStop(0, "#210b4a");
    g.addColorStop(1, "#180936");
    ctx.fillStyle = g;
    ctx.fillRect(chartArea.left, y80, chartArea.right - chartArea.left, y20 - y80);
    ctx.restore();
  },
  beforeDatasetsDraw(chart) {
    const { ctx, chartArea } = chart;
    const sy = chart.scales.y;
    ctx.save();
    ctx.strokeStyle = "rgba(150, 150, 160, 0.8)";
    ctx.lineWidth = 2;
    ctx.setLineDash([12, 8]);
    estocBandas.forEach((b) => {
      const y = Math.round(sy.getPixelForValue(b));
      ctx.beginPath();
      ctx.moveTo(chartArea.left, y);
      ctx.lineTo(chartArea.right, y);
      ctx.stroke();
    });
    ctx.restore();
  },
  afterDraw(chart) {
    const { ctx, width } = chart;
    ctx.save();
    ctx.fillStyle = "#3a3a46";
    ctx.fillRect(0, 0, width, 3);
    ctx.restore();
    botonesAL(ctx, 189, true);
  }
};

new Chart(document.getElementById("chart-estoc"), {
  type: "line",
  data: {
    datasets: [
      { data: barras.map((x, k) => ({ x, y: estocK[k] })), borderColor: "#f7680f", borderWidth: 2.5, pointRadius: 0, tension: 0 },
      { data: barras.map((x, k) => ({ x, y: estocD[k] })), borderColor: "#2196f3", borderWidth: 2.5, pointRadius: 0, tension: 0 }
    ]
  },
  options: {
    responsive: false, animation: false, devicePixelRatio: 1,
    layout: { padding: 0 },
    plugins: { legend: { display: false }, tooltip: { enabled: false } },
    scales: {
      x: ejeRejillaX(),
      y: ejePrecio(-7.12, 109.69, estocEje, (v) => (v === 0 ? "" : Number(v).toFixed(2)))
    }
  },
  plugins: [decoracionEstoc]
});

// ============================================================================
// Panel MACD + eje de fechas
// ============================================================================
const coloresHisto = macdHisto.map((v, k) => {
  const prev = k > 0 ? macdHisto[k - 1] : v;
  if (v >= 0) return v >= prev ? "#f05350" : "#ffcdd2";
  return v <= prev ? "#9497a2" : "#d6d8e0";
});

const decoracionMacd = {
  id: "decoracionMacd",
  beforeDraw(chart) {
    const { ctx, width, chartArea } = chart;
    ctx.save();
    rellenarFondo(ctx, width, chartArea.bottom, [[0, "#0b0632"], [0.5, "#08051c"], [1, "#030305"]]);
    ctx.fillStyle = "#030304";
    ctx.fillRect(0, chartArea.bottom, width, chart.height - chartArea.bottom);
    ctx.restore();
  },
  afterDatasetsDraw(chart) {
    const { ctx } = chart;
    // logotipo
    ctx.save();
    ctx.fillStyle = "#f4f4f6";
    ctx.strokeStyle = "#111114";
    ctx.lineWidth = 2;
    ctx.beginPath();
    ctx.moveTo(21, 100); ctx.lineTo(51, 100); ctx.lineTo(51, 126); ctx.lineTo(38, 126);
    ctx.lineTo(38, 109); ctx.lineTo(21, 109); ctx.closePath();
    ctx.fill(); ctx.stroke();
    ctx.beginPath(); ctx.arc(59, 104, 4.5, 0, Math.PI * 2); ctx.fill(); ctx.stroke();
    ctx.beginPath();
    ctx.moveTo(65, 100); ctx.lineTo(78, 100); ctx.lineTo(64, 127); ctx.lineTo(51, 127); ctx.closePath();
    ctx.fill(); ctx.stroke();
    ctx.restore();
  },
  afterDraw(chart) {
    const { ctx, width, chartArea } = chart;
    ctx.save();
    ctx.fillStyle = "#3a3a46";
    ctx.fillRect(0, 0, width, 3);
    ctx.fillRect(0, chartArea.bottom - 1, width, 3);
    ctx.fillRect(0, 204, width, 2);
    ctx.fillStyle = "#4e4e5a";
    ctx.fillRect(2433, chartArea.bottom, 2, chart.height - chartArea.bottom);
    ctx.restore();
    botonesAL(ctx, 105, true);
  }
};

new Chart(document.getElementById("chart-macd"), {
  type: "bar",
  data: {
    datasets: [
      { type: "line", data: barras.map((x, k) => ({ x, y: macdLinea[k] })), borderColor: "#e8245f", borderWidth: 2.5, pointRadius: 0, spanGaps: true, order: 0 },
      { type: "line", data: barras.map((x, k) => ({ x, y: macdSenal[k] })), borderColor: "#2a8fe6", borderWidth: 2.5, pointRadius: 0, spanGaps: true, cubicInterpolationMode: "monotone", order: 1 },
      { data: barras.map((x, k) => ({ x, y: macdHisto[k] })), backgroundColor: coloresHisto, barThickness: 6, grouped: false, order: 2 }
    ]
  },
  options: {
    responsive: false, animation: false, devicePixelRatio: 1,
    layout: { padding: 0 },
    plugins: { legend: { display: false }, tooltip: { enabled: false } },
    scales: {
      x: ejeRejillaX(),
      xl: {
        type: "linear", position: "bottom", min: X_MIN, max: X_MAX, offset: false,
        afterFit: (s) => { s.height = 58; sinRelleno(s); },
        afterBuildTicks: (s) => { s.ticks = diasPos.map((v) => ({ value: v })); },
        ticks: {
          autoSkip: false, maxRotation: 0, padding: 8, color: COLOR_TEXTO_EJE,
          callback: (v, i) => diasEtiquetas[i],
          font: (c) => ({ family: FUENTE, size: 22, weight: diasEtiquetas[c.index] === "5月" ? "700" : "400" })
        },
        grid: { display: false, offset: false },
        border: { display: false }
      },
      y: ejePrecio(-0.232, 0.6913, macdEje, (v) => (v === 0 ? "" : Number(v).toFixed(3)))
    }
  },
  plugins: [decoracionMacd]
});
</script>
</body>
</html>
